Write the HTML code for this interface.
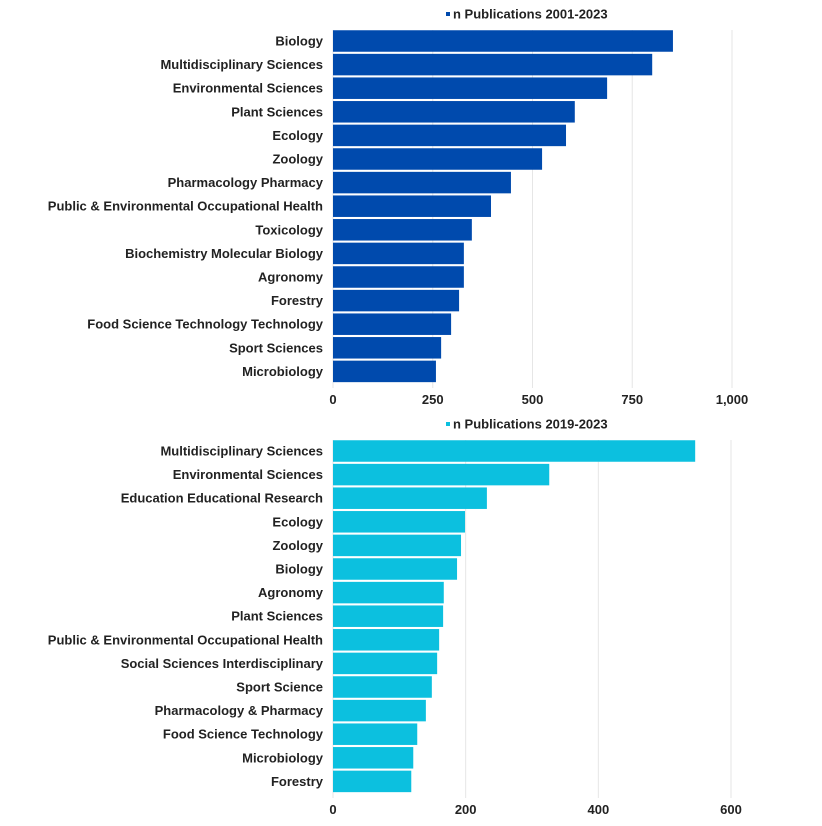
<!DOCTYPE html>
<html><head><meta charset="utf-8"><style>
body{margin:0;background:#fff;width:822px;height:821px;overflow:hidden;font-family:"Liberation Sans",Arial,sans-serif}
svg text{font-family:"Liberation Sans",Arial,sans-serif;font-weight:bold;font-size:13px;fill:#222}
</style></head><body>
<svg id="c" width="822" height="821"></svg>
<script>
const cats1=["Biology","Multidisciplinary Sciences","Environmental Sciences","Plant Sciences","Ecology","Zoology","Pharmacology Pharmacy","Public & Environmental Occupational Health","Toxicology","Biochemistry Molecular Biology","Agronomy","Forestry","Food Science Technology Technology","Sport Sciences","Microbiology"];
const vals1=[852,800,687,606,584,524,446,396,348,328,328,316,296,271,258];
const ticks1=[0,250,500,750,1000];
const tickLabels1=["0","250","500","750","1,000"];
const cats2=["Multidisciplinary Sciences","Environmental Sciences","Education Educational Research","Ecology","Zoology","Biology","Agronomy","Plant Sciences","Public & Environmental Occupational Health","Social Sciences Interdisciplinary","Sport Science","Pharmacology & Pharmacy","Food Science Technology","Microbiology","Forestry"];
const vals2=[546,326,232,199,193,187,167,166,160,157,149,140,127,121,118];
const ticks2=[0,200,400,600];
const tickLabels2=["0","200","400","600"];
const NS="http://www.w3.org/2000/svg";
const svg=document.getElementById('c');
function mk(t,a,p){const e=document.createElementNS(NS,t);for(const k in a)e.setAttribute(k,a[k]);(p||svg).appendChild(e);return e;}
function chart(cats,vals,ticks,labels,max,top,color,legend,id){
  const x0=333,w=399,pitch=23.6,bh=21.5;
  const g=mk('g',{});
  
  
  const xs=v=>x0+v/max*w;
  const yc=i=>top+9+i*pitch;
  ticks.forEach((t,i)=>{
    const l=mk('line',{x1:xs(t),x2:xs(t),y1:top-2,y2:top+cats.length*pitch+2,stroke:'#e6e6e6','stroke-width':1},g);
    
    
    const tx=mk('text',{x:xs(t),y:top+cats.length*pitch+18,'text-anchor':'middle'},g);
    tx.textContent=labels[i];
    
    
  });
  cats.forEach((c,i)=>{
    const r=mk('rect',{x:x0,y:yc(i)-bh/2,width:xs(vals[i])-x0,height:bh,fill:color},g);
    
    
    const tx=mk('text',{x:323,y:yc(i)+4.5,'text-anchor':'end'},g);
    tx.textContent=c;
    
    
  });
  const m=mk('rect',{x:446,y:top-20,width:4,height:4,fill:color},g);
  
  
  const lt=mk('text',{x:453,y:top-13.5},g);
  lt.textContent=legend;
  
  
}
chart(cats1,vals1,ticks1,tickLabels1,1000,32,'#004aad','n Publications 2001-2023','chart-2001-2023');
chart(cats2,vals2,ticks2,tickLabels2,601.5,442,'#0cc0df','n Publications 2019-2023','chart-2019-2023');
</script>
</body></html>
